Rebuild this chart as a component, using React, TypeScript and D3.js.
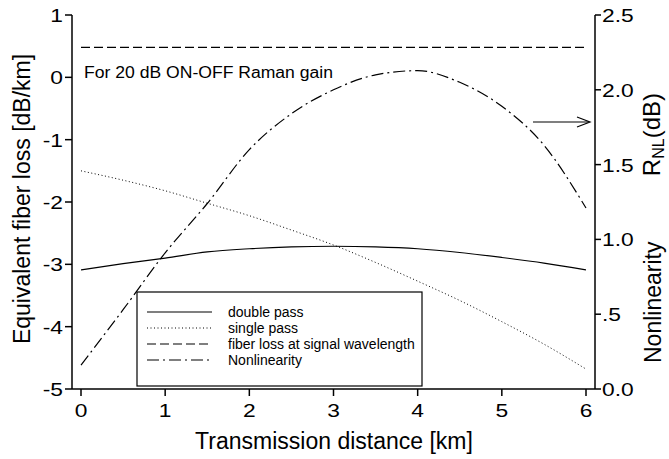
import React from "react";
import * as d3 from "d3";

const xs = [0, 0.5, 1, 1.5, 2, 2.5, 3, 3.5, 4, 4.5, 5, 5.5, 6];
const doublePass = [-3.09, -2.99, -2.9, -2.8, -2.75, -2.72, -2.71, -2.72, -2.75, -2.81, -2.89, -2.98, -3.09];
const singlePass = [-1.5, -1.65, -1.82, -2.02, -2.22, -2.45, -2.69, -2.97, -3.27, -3.58, -3.92, -4.28, -4.68];
const fiberLoss = [0.48, 0.48, 0.48, 0.48, 0.48, 0.48, 0.48, 0.48, 0.48, 0.48, 0.48, 0.48, 0.48];
const nonlinearity = [0.16, 0.53, 0.91, 1.24, 1.6, 1.84, 2.0, 2.1, 2.128, 2.05, 1.89, 1.63, 1.21];

const xTicks = [0, 1, 2, 3, 4, 5, 6];
const yLeftTicks = [1, 0, -1, -2, -3, -4, -5];
const yRightTicks = [2.5, 2.0, 1.5, 1.0, 0.5, 0.0];
const yRightLabels = ["2.5", "2.0", "1.5", "1.0", ".5", "0.0"];

const legendItems = [
  { label: "double pass", dash: "none" },
  { label: "single pass", dash: "1,2.5" },
  { label: "fiber loss at signal wavelength", dash: "9,4" },
  { label: "Nonlinearity", dash: "12,4,2,4" },
];

const FONT = "Liberation Sans, Arial, sans-serif";
const TICK_FS = 19;
const TICK_SX = 1.2;

export default function App() {
  const W = 669, H = 459;
  const axL = 72, axR = 595, axB = 389, axT = 15;
  const x = d3.scaleLinear().domain([0, 6]).range([81, 586]);
  const yL = d3.scaleLinear().domain([-5, 1]).range([axB, axT]);
  const yR = d3.scaleLinear().domain([0, 2.5]).range([axB, axT]);

  const lineL = d3.line<number>().x((_, i) => x(xs[i])).y((d) => yL(d)).curve(d3.curveMonotoneX);
  const lineR = d3.line<number>().x((_, i) => x(xs[i])).y((d) => yR(d)).curve(d3.curveMonotoneX);

  const sw = 1.2;
  const lgX = 137, lgY = 292, lgW = 285, lgH = 94;

  return (
    <svg width={W} height={H} style={{ position: "absolute", left: 0, top: 0, background: "#fff" }} fontFamily={FONT}>
      <rect width={W} height={H} fill="#fff" />
      {/* axes */}
      <line x1={axL} x2={axL} y1={axT} y2={axB} stroke="#000" strokeWidth={1.5} />
      <line x1={axR} x2={axR} y1={axT} y2={axB} stroke="#000" strokeWidth={1.5} />
      <line x1={axL} x2={axR} y1={axB} y2={axB} stroke="#000" strokeWidth={1.5} />
      {yLeftTicks.map((t) => (
        <g key={"yl" + t}>
          <line x1={axL - 7} x2={axL} y1={yL(t)} y2={yL(t)} stroke="#000" strokeWidth={1.5} />
          <g transform={`translate(${axL - 9},${yL(t) + 7}) scale(${TICK_SX},1)`}>
            <text textAnchor="end" fontSize={TICK_FS}>{t}</text>
          </g>
        </g>
      ))}
      {yRightTicks.map((t, i) => (
        <g key={"yr" + t}>
          <line x1={axR} x2={axR + 6} y1={yR(t)} y2={yR(t)} stroke="#000" strokeWidth={1.5} />
          <g transform={`translate(${axR + 7},${yR(t) + 7}) scale(${TICK_SX},1)`}>
            <text textAnchor="start" fontSize={TICK_FS}>{yRightLabels[i]}</text>
          </g>
        </g>
      ))}
      {xTicks.map((t) => (
        <g key={"x" + t}>
          <line x1={x(t)} x2={x(t)} y1={axB} y2={axB + 7} stroke="#000" strokeWidth={1.5} />
          <g transform={`translate(${x(t)},${axB + 28}) scale(${TICK_SX},1)`}>
            <text textAnchor="middle" fontSize={TICK_FS}>{t}</text>
          </g>
        </g>
      ))}
      {/* titles */}
      <text x={334} y={449} textAnchor="middle" fontSize={23}>Transmission distance [km]</text>
      <text transform={`translate(30,199) rotate(-90)`} textAnchor="middle" fontSize={23}>Equivalent fiber loss [dB/km]</text>
      <text transform={`translate(661,363) rotate(-90)`} textAnchor="start" fontSize={23}>Nonlinearity</text>
      <text transform={`translate(660,93) rotate(-90)`} textAnchor="end" fontSize={24}>
        R<tspan fontSize={16} dy={4}>NL</tspan><tspan dy={-4}>(dB)</tspan>
      </text>
      {/* series */}
      <path d={lineL(doublePass) || ""} fill="none" stroke="#000" strokeWidth={sw} />
      <path d={lineL(singlePass) || ""} fill="none" stroke="#000" strokeWidth={1} strokeDasharray="1,2.5" />
      <path d={lineL(fiberLoss) || ""} fill="none" stroke="#000" strokeWidth={sw} strokeDasharray="9,4" />
      <path d={lineR(nonlinearity) || ""} fill="none" stroke="#000" strokeWidth={sw} strokeDasharray="12,4,2,4" />
      {/* annotation */}
      <text x={84} y={78} fontSize={16} textLength={249} lengthAdjust="spacingAndGlyphs">For 20 dB ON-OFF Raman gain</text>
      <line x1={533} x2={589} y1={122} y2={122} stroke="#000" strokeWidth={1.2} />
      <path d="M577,117 L590,122 L577,127" fill="none" stroke="#000" strokeWidth={1.2} />
      {/* legend */}
      <rect x={lgX} y={lgY} width={lgW} height={lgH} fill="#fff" stroke="#000" strokeWidth={1.2} />
      {legendItems.map((it, i) => {
        const yy = 312 + i * 16;
        return (
          <g key={it.label}>
            <line x1={147} x2={212} y1={yy} y2={yy} stroke="#000" strokeWidth={it.dash === "1,2.5" ? 1 : sw} strokeDasharray={it.dash} />
            <text x={228} y={yy + 5} fontSize={14}>{it.label}</text>
          </g>
        );
      })}
    </svg>
  );
}
